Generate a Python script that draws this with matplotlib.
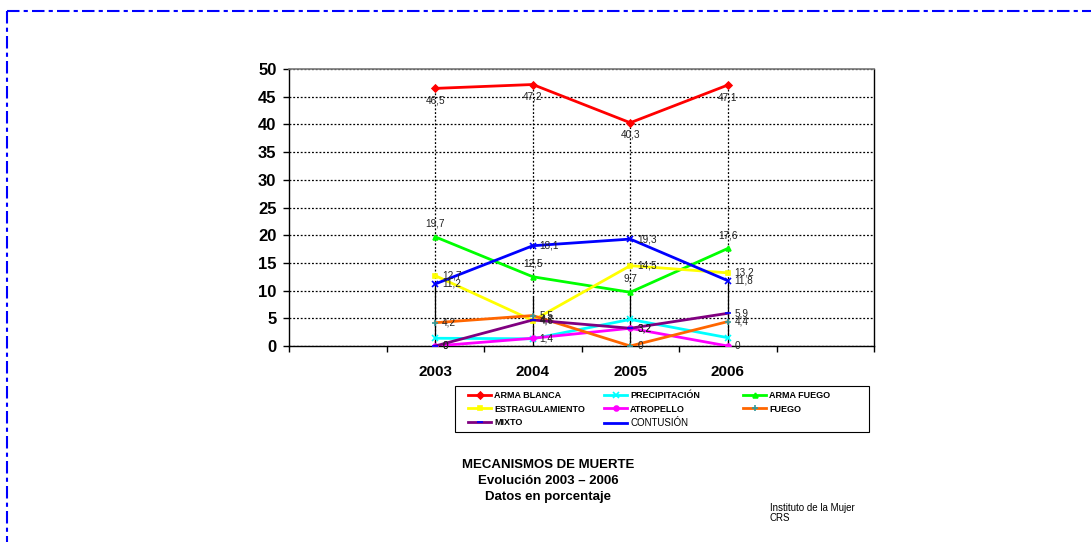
import matplotlib
matplotlib.use("Agg")
import matplotlib.pyplot as plt
from matplotlib.lines import Line2D
from matplotlib.patches import Rectangle

plt.rcParams['font.family'] = ['Liberation Sans', 'DejaVu Sans']

# categorias del eje X (la primera y la ultima vacias, como en el original)
slots = ['', '2003', '2004', '2005', '2006', '']
years = ['2003', '2004', '2005', '2006']

arma_blanca = [46.5, 47.2, 40.3, 47.1]
precipitacion = [1.4, 1.3, 4.8, 1.5]
arma_fuego = [19.7, 12.5, 9.7, 17.6]
estrangulamiento = [12.7, 4.6, 14.5, 13.2]
atropello = [0, 1.4, 3.2, 0]
fuego = [4.2, 5.5, 0, 4.4]
mixto = [0, 4.7, 3.2, 5.9]
contusion = [11.2, 18.1, 19.3, 11.8]

# parte solida de las lineas de caida
drop_solid = [11.2, 9.0, 9.7, 11.8]

# (nombre, datos, color, marcador, color marcador, posicion etiqueta)
series = [
    ("ARMA BLANCA", arma_blanca, "#FF0000", "D", "#FF0000", "below"),
    ("PRECIPITACIÓN", precipitacion, "#00FFFF", "x", "#00FFFF", None),
    ("ARMA FUEGO", arma_fuego, "#00FF00", "^", "#00FF00", "above"),
    ("ESTRAGULAMIENTO", estrangulamiento, "#FFFF00", "s", "#FFFF00", "right"),
    ("ATROPELLO", atropello, "#FF00FF", "o", "#FF00FF", "right"),
    ("FUEGO", fuego, "#FF6600", "+", "#339999", "right"),
    ("MIXTO", mixto, "#800080", "_", "#0000FF", "right"),
    ("CONTUSIÓN", contusion, "#0000FF", "x", "#0000FF", "right"),
]

W, H = 1091, 542
fig = plt.figure(figsize=(W / 100, H / 100), dpi=100)
ax = fig.add_axes([289 / W, 1 - 346 / H, (874 - 289) / W, (346 - 69) / H])

xpos = [slots.index(y) for y in years]

# lineas de caida (punteadas desde el maximo, solidas en la parte baja)
tops = [max(s[1][i] for s in series) for i in range(len(years))]
ax.vlines(xpos, 0, tops, colors="black", linestyles=(0, (1.5, 1.5)), lw=0.9, zorder=1)
ax.vlines(xpos, 0, drop_solid, colors="black", lw=0.9, zorder=1)

handles = {}
for name, vals, col, mk, mcol, lab in series:
    ms = 5 if mk in ("x", "+", "_") else 3.5
    h, = ax.plot(xpos, vals, color=col, lw=2, marker=mk, ms=ms,
                 mfc=mcol, mec=mcol, mew=1.2, zorder=3)
    handles[name] = h
    if lab is None:
        continue
    for x, v in zip(xpos, vals):
        txt = f"{v:g}".replace(".", ",")
        if lab == "below":
            ax.annotate(txt, (x, v), xytext=(0, -5), textcoords="offset points",
                        ha="center", va="top", fontsize=7.2, color="#222222", zorder=4)
        elif lab == "above":
            ax.annotate(txt, (x, v), xytext=(0, 6), textcoords="offset points",
                        ha="center", va="bottom", fontsize=7.2, color="#222222", zorder=4)
        else:
            ax.annotate(txt, (x, v), xytext=(5, 0), textcoords="offset points",
                        ha="left", va="center", fontsize=7.2, color="#222222", zorder=4)

ax.set_xlim(-0.5, len(slots) - 0.5)
ax.set_ylim(0, 50)
ax.set_yticks(range(0, 51, 5))
ax.yaxis.grid(True, color="black", linestyle=(0, (1.5, 1.5)), lw=0.9)
ax.set_axisbelow(True)
ax.set_xticks(range(len(slots)))
ax.set_xticklabels(slots, fontsize=11, fontweight="bold")
ax.set_xticks([i - 0.5 for i in range(len(slots) + 1)], minor=True)
ax.tick_params(axis="x", which="major", length=0, pad=14)
ax.tick_params(axis="x", which="minor", length=4, width=1, direction="out")
ax.tick_params(axis="y", length=4, width=1, pad=5, labelsize=12)
for t in ax.get_yticklabels():
    t.set_fontweight("bold")
for s in ("left", "bottom", "right"):
    ax.spines[s].set_color("black")
    ax.spines[s].set_linewidth(1)
ax.spines["top"].set_color("#777777")
ax.spines["top"].set_linewidth(1.2)

# leyenda: tres columnas colocadas a mano dentro de un marco
columns = [["ARMA BLANCA", "ESTRAGULAMIENTO", "MIXTO"],
           ["PRECIPITACIÓN", "ATROPELLO", "CONTUSIÓN"],
           ["ARMA FUEGO", "FUEGO"]]
col_x = [468, 604, 743]
for names, cx in zip(columns, col_x):
    hs = []
    for n in names:
        if n == "CONTUSIÓN":
            hs.append(Line2D([], [], color="#0000FF", lw=2))
        else:
            hs.append(handles[n])
    leg = fig.legend(hs, names, loc="upper left", bbox_to_anchor=(cx / W, 1 - 391 / H),
                     fontsize=6.5, frameon=False, handlelength=2.6,
                     handletextpad=0.3, labelspacing=0.5, borderpad=0,
                     borderaxespad=0)
    for t in leg.get_texts():
        if t.get_text() == "CONTUSIÓN":
            t.set_fontsize(7)
        else:
            t.set_fontweight("bold")
fig.add_artist(Rectangle((455 / W, 1 - 432 / H), (869 - 455) / W, (432 - 386) / H,
                         transform=fig.transFigure, fill=False, edgecolor="black", lw=0.8))

fig.text(548 / W, 1 - 465 / H, "MECANISMOS DE MUERTE", ha="center", va="center",
         fontsize=9.5, fontweight="bold")
fig.text(548 / W, 1 - 481 / H, "Evolución 2003 – 2006", ha="center", va="center",
         fontsize=9.5, fontweight="bold")
fig.text(548 / W, 1 - 497 / H, "Datos en porcentaje", ha="center", va="center",
         fontsize=9.5, fontweight="bold")
fig.text(770 / W, 1 - 513 / H, "Instituto de la Mujer\nCRS", ha="left", va="center",
         fontsize=7, linespacing=1.1)

# marco exterior azul punto-raya
dash = (0, (6, 2, 2, 2))
fig.add_artist(Line2D([7 / W, 1], [1 - 11 / H, 1 - 11 / H], color="#0000FF",
                      lw=1.5, linestyle=dash, transform=fig.transFigure))
fig.add_artist(Line2D([7 / W, 7 / W], [1 - 11 / H, 0], color="#0000FF",
                      lw=1.5, linestyle=dash, transform=fig.transFigure))

fig.savefig("out.png", dpi=100)
